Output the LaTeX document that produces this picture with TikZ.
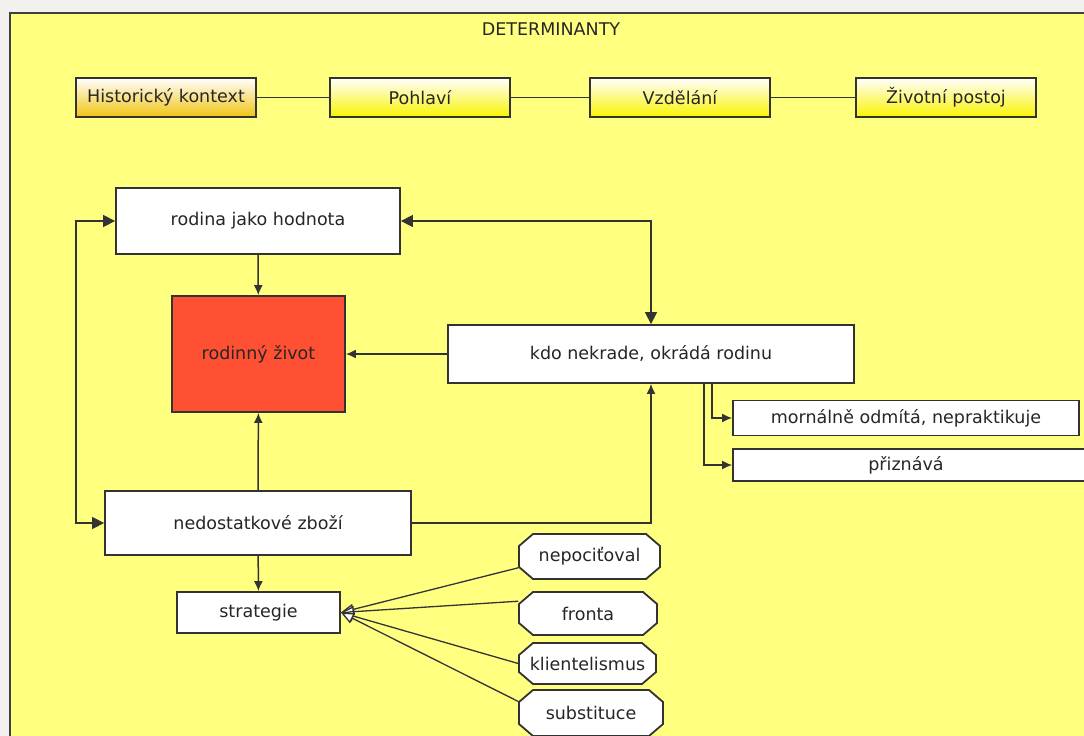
\documentclass[tikz,border=0pt]{standalone}
\usepackage{fontspec}
\setmainfont{DejaVu Sans}
\usetikzlibrary{arrows.meta}
\definecolor{frameyellow}{RGB}{255,255,128}
\definecolor{pagegray}{RGB}{243,241,237}
\definecolor{boxred}{RGB}{255,80,51}
\definecolor{hdrgold}{RGB}{240,196,16}
\definecolor{hdryellow}{RGB}{250,244,0}
\begin{document}
\begin{tikzpicture}[x=1pt,y=-1pt,line width=1.5pt,draw=black!80]
  \tikzstyle{every node}=[font=\fontsize{17.5}{21}\selectfont,text=black!85,inner sep=2pt]
  \tikzstyle{box}=[draw=black!80,fill=white,line width=1.8pt,rectangle]
  \tikzstyle{hdr}=[box,minimum width=180pt,minimum height=39pt,top color=white,bottom color=hdryellow]
  \tikzstyle{oct}=[rectangle]
  \tikzstyle{octline}=[draw=black!80,fill=white,line width=1.8pt]
  \tikzstyle{sarr}=[-{Latex[length=10pt,width=9pt]}]
  \tikzstyle{barr}=[{Triangle[length=12pt,width=12pt]}-{Triangle[length=12pt,width=12pt]}]
  \tikzstyle{oarr}=[-{Triangle[length=13pt,width=11pt,fill=white]},line width=1.3pt]
  \useasboundingbox (0,0) rectangle (1084,736);
  \fill[pagegray] (0,0) rectangle (1084,736);
  \draw[fill=frameyellow,line width=2pt,draw=black!75] (10,13) rectangle (1110,760);
  \node (title) at (551,29) {DETERMINANTY};
  \node[hdr,bottom color=hdrgold] (hist) at (166,97.5) {Historický kontext};
  \node[hdr] (pohl) at (420,97.5) {Pohlaví};
  \node[hdr] (vzd) at (680,97.5) {Vzdělání};
  \node[hdr] (zivot) at (946,97.5) {Životní postoj};
  \draw (hist) -- (pohl) -- (vzd) -- (zivot);
  \node[box,minimum width=284pt,minimum height=66pt] (rodina) at (258,221) {rodina jako hodnota};
  \node[box,fill=boxred,minimum width=173pt,minimum height=116pt] (rzivot) at (258.5,354) {rodinný život};
  \node[box,minimum width=406pt,minimum height=58pt] (kdo) at (651,354) {kdo nekrade, okrádá rodinu};
  \node[box,minimum width=346pt,minimum height=35pt] (morn) at (906,418) {mornálně odmítá, nepraktikuje};
  \node[box,minimum width=357pt,minimum height=32pt,text width=346pt,align=center] (prizn) at (911.5,465) {\hspace*{-11pt}přiznává};
  \node[box,minimum width=306pt,minimum height=64pt] (nedost) at (258,523) {nedostatkové zboží};
  \node[box,minimum width=163pt,minimum height=41pt] (strat) at (258.5,612.5) {strategie};
  \foreach \cx/\cy/\w/\h in {589.5/556.5/141/45, 588/613.5/138/43, 587.5/663.5/137/41, 591/713/144/46}
    \draw[octline] ({\cx-\w/2+14},{\cy-\h/2}) -- ({\cx+\w/2-14},{\cy-\h/2}) -- ({\cx+\w/2},{\cy-\h/2+12})
      -- ({\cx+\w/2},{\cy+\h/2-12}) -- ({\cx+\w/2-14},{\cy+\h/2}) -- ({\cx-\w/2+14},{\cy+\h/2})
      -- ({\cx-\w/2},{\cy+\h/2-12}) -- ({\cx-\w/2},{\cy-\h/2+12}) -- cycle;
  \node[oct,minimum width=141pt,minimum height=45pt] (nepoc) at (589.5,556.5) {nepociťoval};
  \node[oct,minimum width=138pt,minimum height=43pt] (fronta) at (588,613.5) {fronta};
  \node[oct,minimum width=137pt,minimum height=41pt] (klient) at (587.5,663.5) {klientelismus};
  \node[oct,minimum width=144pt,minimum height=46pt] (subst) at (591,713) {substituce};
  \draw[sarr] (rodina) -- (rzivot);
  \draw[sarr] (nedost) -- (rzivot);
  \draw[sarr] (kdo) -- (rzivot);
  \draw[sarr] (nedost) -- (strat);
  \draw[barr] (rodina.east) -| (kdo.north);
  \draw[barr] (rodina.west) -- ++(-39,0) |- (nedost.west);
  \draw[sarr] (nedost.east) -| (kdo.south);
  \draw[sarr] ([xshift=61pt]kdo.south) |- (morn.west);
  \draw[sarr] ([xshift=53pt]kdo.south) |- (prizn.west);
  \draw[oarr] (nepoc.189) -- (strat.east);
  \draw[oarr] (fronta.170) -- (strat.east);
  \draw[oarr] (klient.west) -- (strat.east);
  \draw[oarr] (subst.171) -- (strat.east);
\end{tikzpicture}
\end{document}
